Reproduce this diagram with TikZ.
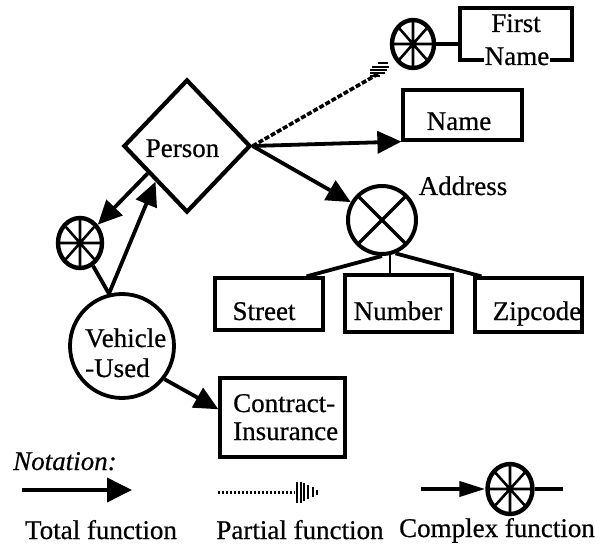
\documentclass[tikz,border=0pt]{standalone}
\usepackage{fontspec}
\setmainfont{Liberation Serif}[BoldFont={Liberation Serif}, BoldFeatures={FakeBold=0.6}, BoldItalicFont={Liberation Serif Italic}, BoldItalicFeatures={FakeBold=0.6}]
\usetikzlibrary{shapes.geometric,arrows.meta,calc}
\begin{document}
\begin{tikzpicture}[x=1pt,y=-1pt,
  every node/.style={font=\fontsize{27}{30}\selectfont\bfseries, inner sep=0pt},
  box/.style={draw, rectangle, line width=3.2pt, inner sep=0pt},
  plain/.style={line width=3.8pt},
  tot/.style={line width=3.8pt, -{Triangle[length=24pt,width=22pt]}},
  partial/.style={line width=3.6pt, dash pattern=on 5pt off 2pt},
  wheel/.style={draw, ellipse, line width=4.4pt, minimum width=42pt, minimum height=48pt, inner sep=0pt,
    path picture={\draw[line width=2.6pt]
      (path picture bounding box.north) -- (path picture bounding box.south)
      (path picture bounding box.west) -- (path picture bounding box.east)
      (path picture bounding box.north west) -- (path picture bounding box.south east)
      (path picture bounding box.north east) -- (path picture bounding box.south west);}},
  xcirc/.style={draw, circle, line width=4pt, minimum size=68pt, inner sep=0pt,
    path picture={\draw[line width=3.2pt]
      (path picture bounding box.north west) -- (path picture bounding box.south east)
      (path picture bounding box.north east) -- (path picture bounding box.south west);}},
  txt/.style={anchor=base}]
\useasboundingbox (0,0) rectangle (603,548);

% Person
\node[diamond, draw, line width=4.2pt, minimum width=127pt, minimum height=133pt, inner sep=0pt] (person) at (187,146) {};
\node[txt] (persontxt) at (182.5,157) {Person};

% First Name
\node[wheel] (w1) at (413,44) {};
\node[box, minimum width=112pt, minimum height=52pt] (fn) at (516,34) {};
\node[txt] (fntxt1) at (516,32) {First};
\node[txt, fill=white, inner sep=1pt] (fntxt2) at (517,65) {Name};
\draw[plain] (w1.east) -- (w1.east -| fn.west);

% partial function Person -> First Name
\coordinate (pfend) at (378,74);
\draw[partial] (person.east) -- (pfend);
\foreach \yy/\aa/\bb in {63.5/378/388, 67.5/372/389, 70.5/370/387, 73.5/370/385, 76.5/370/380}
  \draw[line width=2pt] (\aa,\yy) -- (\bb,\yy);

% Name
\node[box, minimum width=119pt, minimum height=50pt] (name) at (462.5,115) {};
\node[txt] (nametxt) at (459,130) {Name};
\draw[tot] (person.east) -- (name.south west);

% Address
\node[xcirc] (addr) at (382,220) {};
\node[txt] (addrtxt) at (463,195) {Address};
\draw[tot] (person.east) -- (addr);

\node[box, minimum width=108pt, minimum height=52pt] (street) at (269,304) {};
\node[box, minimum width=107pt, minimum height=57pt] (num) at (398.5,303.5) {};
\node[box, minimum width=107pt, minimum height=54pt] (zip) at (528.5,305) {};
\node[txt] (streettxt) at (264,320) {Street};
\node[txt] (numtxt) at (398,320) {Number};
\node[txt] (ziptxt) at (537,320) {Zipcode};
\draw[plain] (addr.south) -- ($(street.north east)+(-18,0)$);
\draw[line width=2.4pt] (addr.-77) -- (addr.-77 |- num.north);
\draw[plain] (addr.-68) -- ($(zip.north west)+(8,0)$);

% Vehicle-Used
\node[draw, circle, line width=3.8pt, minimum size=104pt] (veh) at (122,346) {};
\node[anchor=base west] (vehtxt1) at (85,347) {Vehicle};
\node[anchor=base west] (vehtxt2) at (85,377) {-Used};
\node[wheel, minimum width=44pt, minimum height=50pt] (w2) at (80,243) {};

\coordinate (pA) at ($(person.west)!0.4!(person.south)$);
\coordinate (pB) at ($(person.west)!0.52!(person.south)$);
\draw[tot] (pA) -- (w2);
\draw[plain] (w2) -- (veh.104);
\draw[tot] (veh.104) -- (pB);

% Contract-Insurance
\node[box, minimum width=125pt, minimum height=79pt] (contract) at (282.5,417.5) {};
\node[anchor=base west] (ctxt1) at (233,412) {Contract-};
\node[anchor=base west] (ctxt2) at (233,440) {Insurance};
\draw[tot] (veh.-38) -- ($(contract.south west)!0.6!(contract.north west)$);

% Legend
\node[anchor=base west, font=\fontsize{27}{30}\selectfont\bfseries\itshape] (notation) at (13,470) {Notation:};
\coordinate (lt1) at (22,490);
\coordinate (lt2) at (132,490);
\draw[line width=3.8pt, -{Triangle[length=25pt,width=24pt]}] (lt1) -- (lt2);

\coordinate (lp1) at (218,492);
\coordinate (lp2) at (295,492);
\draw[line width=3pt, dash pattern=on 2pt off 2pt] (lp1) -- (lp2);
\foreach \xx/\hh in {297/10.5, 300.5/10.5, 304/9, 308/7, 312.5/5, 317/2.5}
  \draw[line width=2pt] (\xx,492-\hh) -- (\xx,492+\hh);

\node[wheel, minimum width=45pt, minimum height=50pt] (w3) at (510,489) {};
\coordinate (lc1) at (421,489);
\coordinate (lc2) at (563,489);
\draw[line width=3.8pt, -{Triangle[length=26pt,width=15pt]}] (lc1) -- (w3.west);
\draw[line width=3.8pt] (w3.east) -- (lc2);

\node[txt] (ltxt1) at (101,539) {Total function};
\node[txt] (ltxt2) at (300,539) {Partial function};
\node[txt] (ltxt3) at (497,537) {Complex function};
\end{tikzpicture}
\end{document}
